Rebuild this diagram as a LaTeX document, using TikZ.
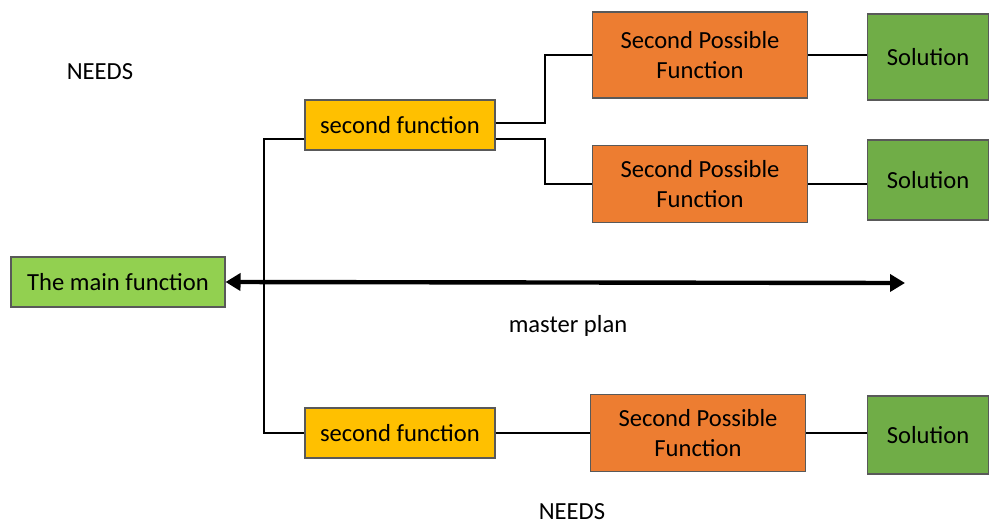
\documentclass[tikz,border=0pt]{standalone}
\usepackage{fontspec}
\setmainfont{Carlito}
\usepackage{tikz}
\usetikzlibrary{arrows.meta, positioning, calc}
\definecolor{maingreen}{RGB}{146,208,80}
\definecolor{funcyellow}{RGB}{255,192,0}
\definecolor{possorange}{RGB}{237,125,49}
\definecolor{solgreen}{RGB}{112,173,71}

\tikzset{
  box/.style={draw=black!65, line width=0.6pt, align=center, inner sep=0pt,
    text=black, font=\fontsize{14}{17}\selectfont},
  mainbox/.style={box, fill=maingreen, minimum width=4.28cm, minimum height=1.0cm},
  funcbox/.style={box, fill=funcyellow, minimum width=3.8cm, minimum height=1.0cm},
  possbox/.style={box, fill=possorange, minimum width=4.3cm},
  solbox/.style={box, fill=solgreen, minimum width=2.44cm},
  label/.style={text=black, font=\fontsize{14}{17}\selectfont},
  link/.style={line width=1.3pt},
  thinlink/.style={line width=0.9pt}
}

\begin{document}
\begin{tikzpicture}[x=0.02cm, y=-0.02cm]
  \useasboundingbox (0,0) rectangle (989,527);
  % left side
  \node[mainbox] (main) at (118,282) {The main function};
  \node[label] (needsTop) at (100,72) {NEEDS};
  \node[label] (plan) at (568,326) {master plan};
  \node[label] (needsBot) at (572,512) {NEEDS};
  % second functions
  \node[funcbox] (sf1) at (400,125) {second function};
  \node[funcbox] (sf2) at (400,433) {second function};
  % possible functions and solutions
  \node[possbox, minimum height=1.72cm] (spf1) at (700,55) {Second Possible\\Function};
  \node[possbox, minimum height=1.54cm] (spf2) at (700,184) {Second Possible\\Function};
  \node[possbox, minimum height=1.54cm] (spf3) at (698,433) {Second Possible\\Function};
  \node[solbox, minimum height=1.72cm] (sol1) at (928,57) {Solution};
  \node[solbox, minimum height=1.6cm] (sol2) at (928,180) {Solution};
  \node[solbox, minimum height=1.56cm] (sol3) at (928,435) {Solution};
  % master plan arrow
  \coordinate (planEnd) at (905,283);
  \draw[line width=2.5pt, {Triangle[length=0.3cm,width=0.34cm]}-{Triangle[length=0.3cm,width=0.34cm]}]
    (main.east) -- (planEnd);
  % bus to the second functions
  \coordinate (busTop) at (264,139);
  \coordinate (busBot) at (264,433);
  \draw[link] (sf1.west |- busTop) -- (busTop) -- (busBot) -- (sf2.west);
  % branches of the upper second function
  \coordinate (fork) at (545,0);
  \draw[link] ([yshift=0.04cm]sf1.east) -| (fork |- spf1.west) -- (spf1.west);
  \draw[link] (sf1.east |- busTop) -| (fork |- spf2.west) -- (spf2.west);
  % straight links
  \draw[thinlink] (spf1.east) -- (spf1.east -| sol1.west);
  \draw[thinlink] (spf2.east) -- (spf2.east -| sol2.west);
  \draw[thinlink] (sf2.east) -- (sf2.east -| spf3.west);
  \draw[thinlink] (spf3.east) -- (spf3.east -| sol3.west);
\end{tikzpicture}
\end{document}
